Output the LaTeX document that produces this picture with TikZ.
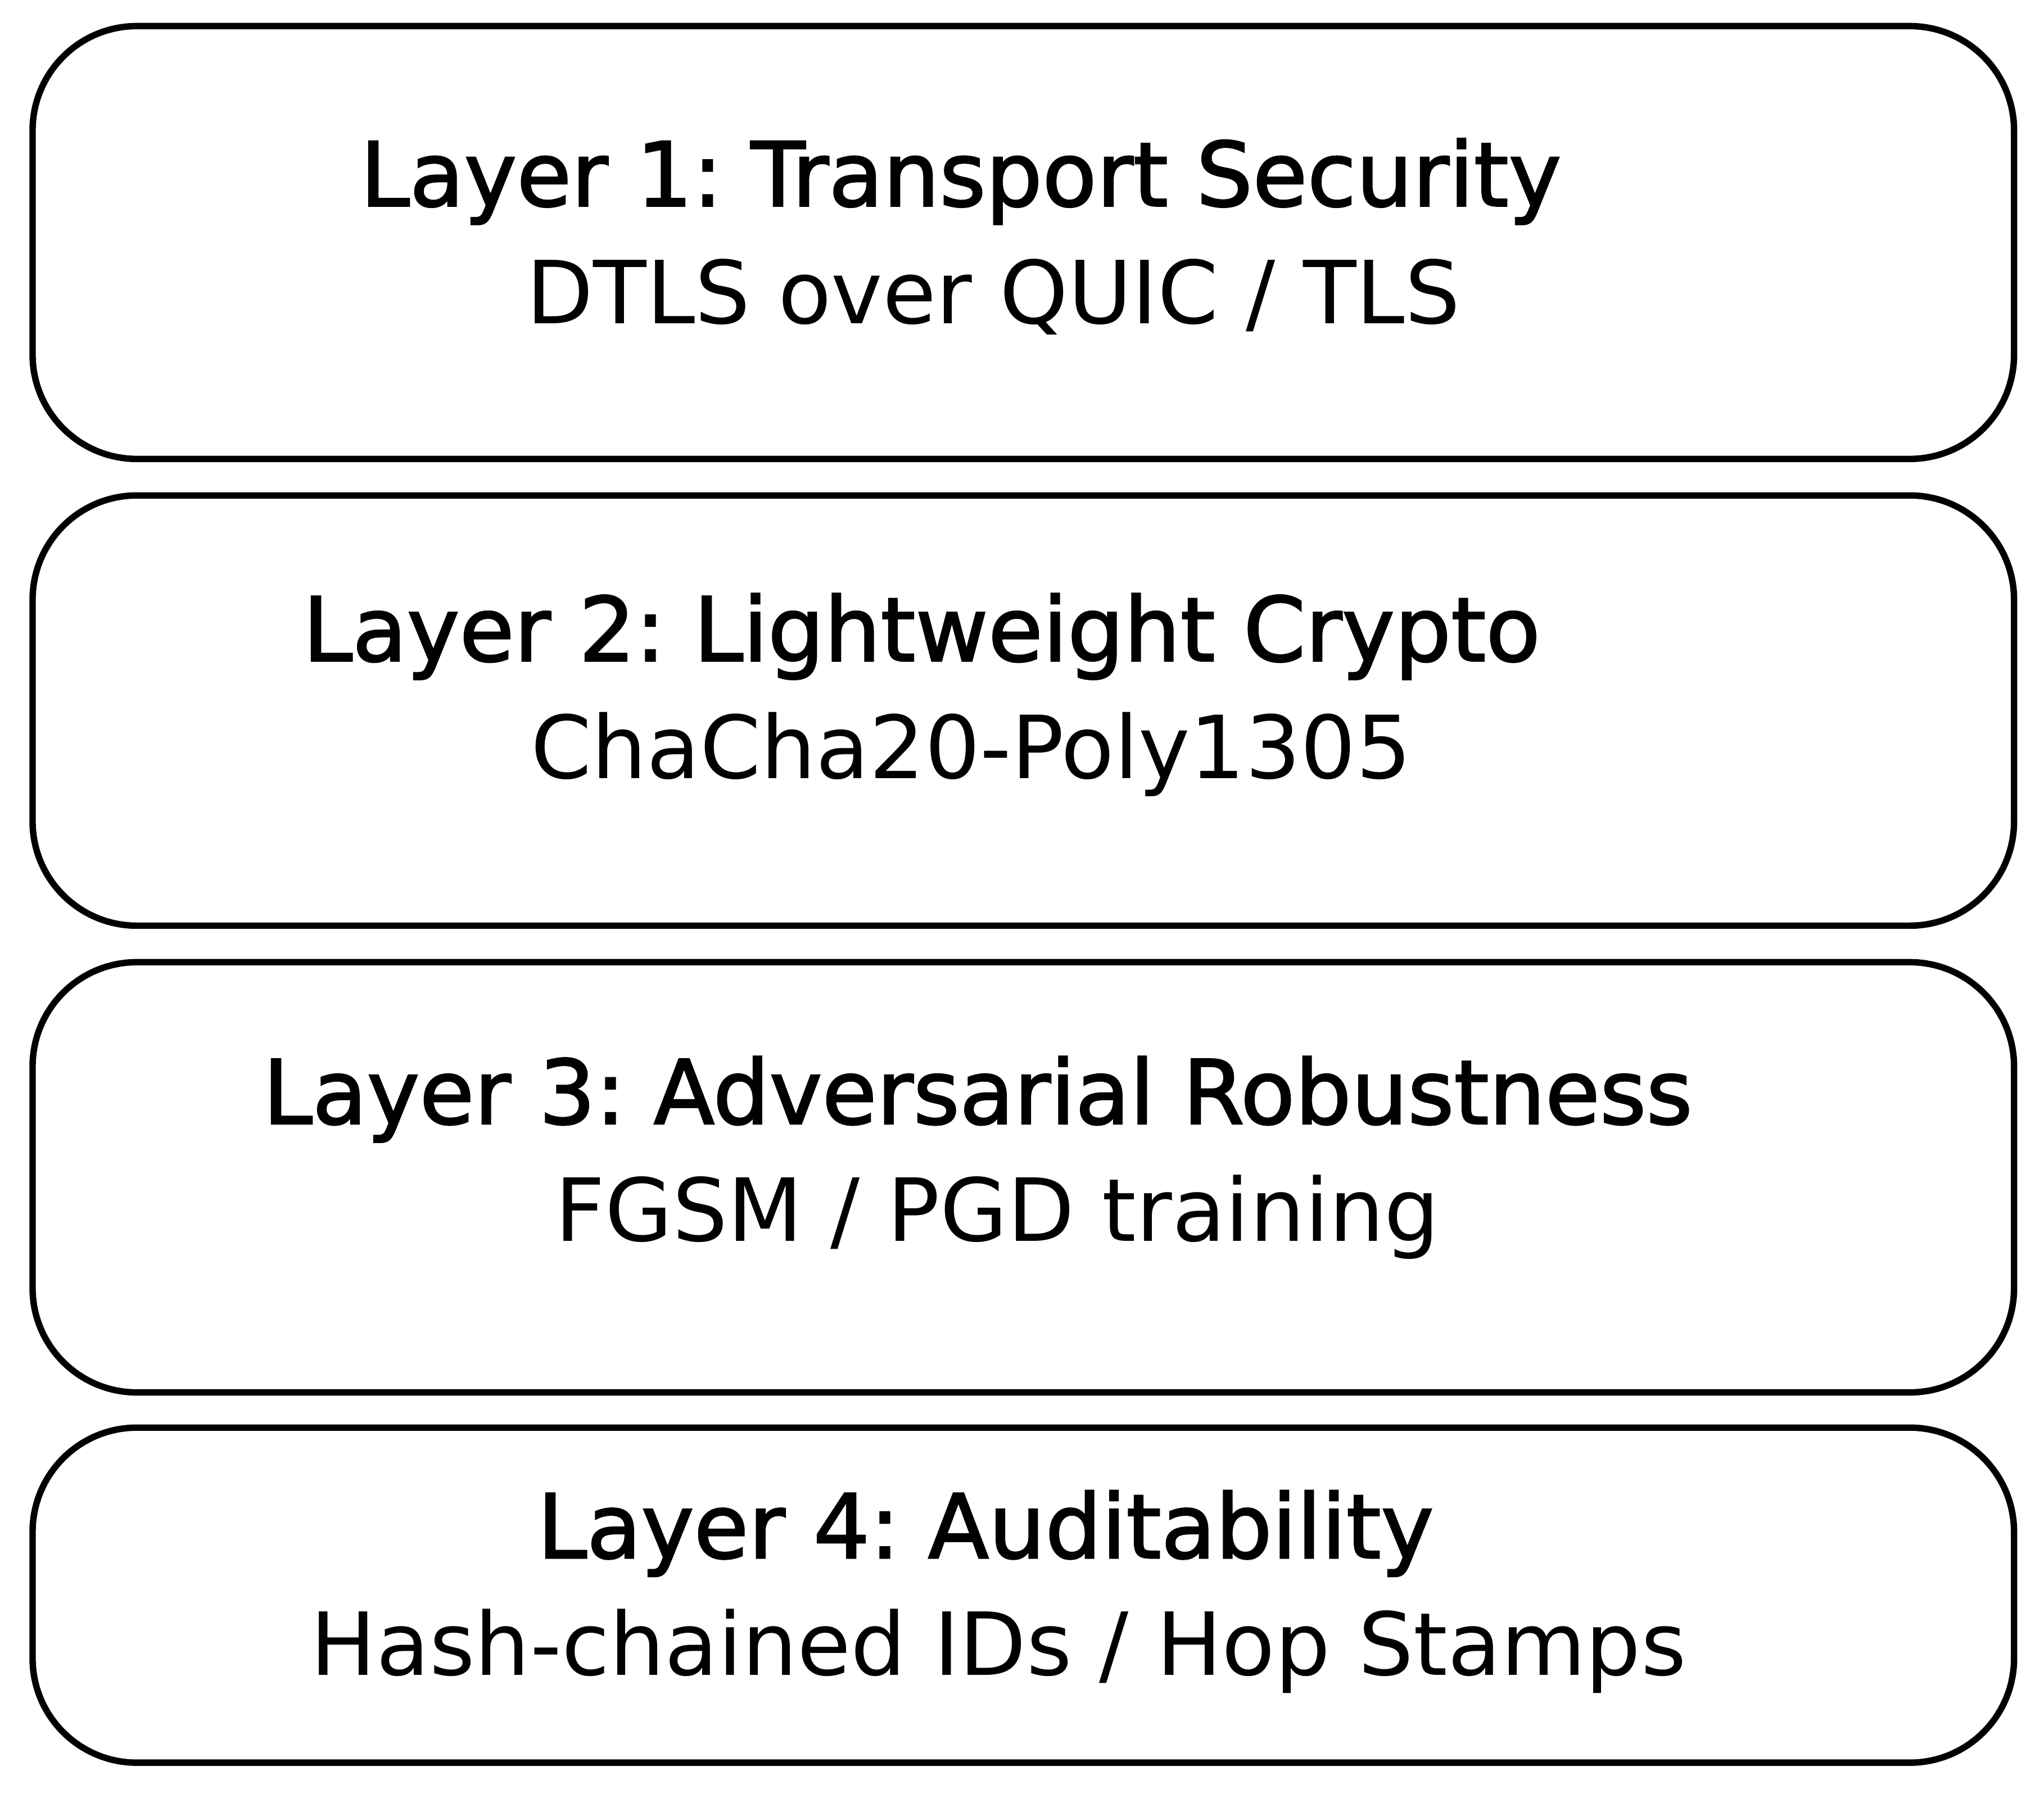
\documentclass[tikz,border=0pt]{standalone}
\usepackage{fontspec}
\setmainfont{DejaVu Sans}
\newfontfamily\headfont{DejaVu Sans}[FakeBold=1.8]
\frenchspacing
\begin{document}
\begin{tikzpicture}[
        layerbox/.style={draw, line width=1.4pt, rounded corners=0.8cm, minimum width=15.2cm, inner sep=0pt},
        heading/.style={anchor=base, inner sep=0pt, font=\headfont\fontsize{19.4}{23}\selectfont},
        detail/.style={anchor=base, inner sep=0pt, font=\fontsize{19}{23}\selectfont}
    ]
    \useasboundingbox (0,0) rectangle (15.68,-13.79);
    
    % Layer boxes
    \node[layerbox, minimum height=3.32cm] (box1) at (7.85,-1.86) {};
    \node[layerbox, minimum height=3.30cm] (box2) at (7.85,-5.45) {};
    \node[layerbox, minimum height=3.30cm] (box3) at (7.85,-9.03) {};
    \node[layerbox, minimum height=2.57cm] (box4) at (7.85,-12.235) {};
    
    % Layer names and techniques
    \node[heading] (head1) at (7.37,-1.58) {Layer 1: Transport Security};
    \node[detail] (tech1) at (7.62,-2.48) {DTLS over QUIC / TLS};
    
    \node[heading] (head2) at (7.07,-5.07) {Layer 2: Lightweight Crypto};
    \node[detail] (tech2) at (7.45,-5.97) {ChaCha20-Poly1305};
    
    \node[heading] (head3) at (7.50,-8.62) {Layer 3: Adversarial Robustness};
    \node[detail] (tech3) at (7.65,-9.52) {FGSM / PGD training};
    
    \node[heading] (head4) at (7.56,-11.95) {Layer 4: Auditability};
    \node[detail] (tech4) at (7.66,-12.85) {Hash-chained IDs / Hop Stamps};
    
\end{tikzpicture}
\end{document}
